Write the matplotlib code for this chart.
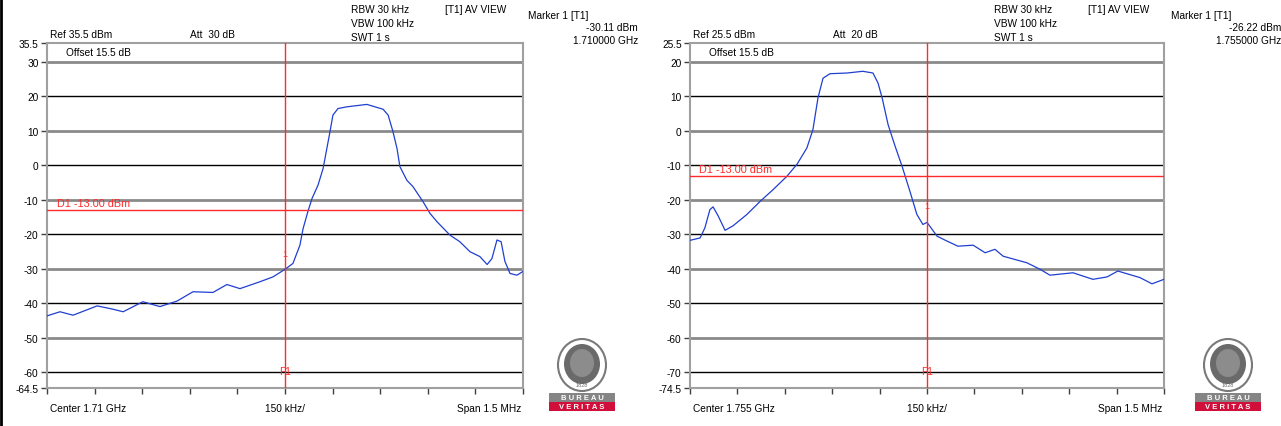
import matplotlib
matplotlib.use("Agg")
import matplotlib.pyplot as plt
from matplotlib.patches import Ellipse, Rectangle

plt.rcParams['font.family'] = ['Liberation Sans', 'DejaVu Sans']

# ---------------- data (frequency offset from centre in kHz, level in dBm) -------------
left_freq_khz = [-750, -709, -668, -592, -545, -510, -448, -394, -340, -290, -227, -183,
                 -142, -79, -38, 0, 25, 47, 57, 72, 85, 104, 120, 142, 151, 167, 195, 258,
                 309, 325, 340, 353, 362, 384, 403, 435, 457, 479, 520, 551, 583, 614, 637,
                 652, 668, 681, 693, 709, 731, 750]
left_level_dbm = [-43.6, -42.4, -43.4, -40.7, -41.6, -42.4, -39.5, -40.9, -39.3, -36.6,
                  -36.8, -34.5, -35.7, -33.7, -32.3, -30.1, -28.4, -23.1, -18.3, -13.4,
                  -9.6, -5.7, -0.9, 9.9, 14.6, 16.5, 17.0, 17.7, 16.3, 14.6, 9.9, 4.9, -0.3,
                  -4.3, -6.1, -10.5, -13.9, -16.3, -20.2, -22.1, -25.0, -26.4, -28.7, -27.0,
                  -21.6, -22.1, -27.8, -31.3, -31.8, -30.7]

right_freq_khz = [-750, -718, -703, -687, -677, -661, -639, -614, -570, -528, -487, -443,
                  -411, -380, -361, -345, -329, -307, -253, -203, -171, -155, -142, -123,
                  -101, -79, -54, -32, -13, 0, 32, 63, 98, 146, 184, 215, 241, 316, 358, 389,
                  462, 525, 570, 604, 674, 712, 750]
right_level_dbm = [-31.7, -31.0, -28.1, -22.8, -22.0, -24.6, -28.8, -27.5, -24.2, -20.4,
                   -17.0, -13.1, -9.6, -4.9, 0.4, 9.6, 15.3, 16.6, 16.8, 17.3, 16.8, 13.9,
                   9.6, 1.8, -4.4, -10.2, -17.5, -24.2, -27.1, -26.5, -30.5, -31.9, -33.4,
                   -33.1, -35.3, -34.3, -36.3, -38.2, -40.1, -41.8, -41.1, -43.0, -42.3,
                   -40.6, -42.5, -44.3, -43.0]

panels = [
    dict(ref=35.5, bottom=-64.5, ticks=[35.5, 30, 20, 10, 0, -10, -20, -30, -40, -50, -60, -64.5],
         grid=[30, 20, 10, 0, -10, -20, -30, -40, -50, -60],
         att="Att  30 dB", ref_txt="Ref 35.5 dBm", mk_val="-30.11 dBm", mk_freq="1.710000 GHz",
         center="Center 1.71 GHz", f=left_freq_khz, v=left_level_dbm, mk_level=-30.11),
    dict(ref=25.5, bottom=-74.5, ticks=[25.5, 20, 10, 0, -10, -20, -30, -40, -50, -60, -70, -74.5],
         grid=[20, 10, 0, -10, -20, -30, -40, -50, -60, -70],
         att="Att  20 dB", ref_txt="Ref 25.5 dBm", mk_val="-26.22 dBm", mk_freq="1.755000 GHz",
         center="Center 1.755 GHz", f=right_freq_khz, v=right_level_dbm, mk_level=-26.22),
]
limit_dbm = -13.0
span_khz = 1500
div_khz = 150

W, H = 1281, 427
fig = plt.figure(figsize=(W / 100, H / 100), dpi=100)
fig.patch.set_facecolor('white')

# overlay axes in pixel coordinates for header texts and logos
ov = fig.add_axes([0, 0, 1, 1], zorder=-1)
ov.set_xlim(0, W)
ov.set_ylim(H, 0)
ov.axis('off')

FS = 7.3
RED = '#ff2a2a'
BLUE = '#1f3fd0'
GRAYLINE = '#8a8a8a'

ax_left_px = [47, 690]
ax_w_px = [476, 474]
top_px, bot_px = 44, 389

for i, p in enumerate(panels):
    x0 = ax_left_px[i]
    w = ax_w_px[i]
    ax = fig.add_axes([x0 / W, (H - bot_px) / H, w / W, (bot_px - top_px) / H])
    ax.set_xlim(-span_khz / 2, span_khz / 2)
    ax.set_ylim(p['bottom'], p['ref'])
    for k, g in enumerate(p['grid']):
        if k % 2 == 0:
            ax.axhline(g, color=GRAYLINE, lw=2.0, zorder=1)
        else:
            ax.axhline(g, color='black', lw=1.0, zorder=1)
    ax.plot(p['f'], p['v'], color=BLUE, lw=0.9, zorder=3)
    ax.axvline(0, color=RED, lw=1.0, zorder=4)
    ax.axhline(limit_dbm, color=RED, lw=1.0, zorder=4)
    ax.text(-span_khz / 2 + 30, limit_dbm + 0.6, "D1 -13.00 dBm", color=RED,
            fontsize=FS + 0.5, va='bottom', ha='left', zorder=5)
    ax.text(0, p['grid'][-1] + 0.3, "F1", color=RED, fontsize=FS, ha='center',
            va='center', zorder=5)
    ax.text(0, p['mk_level'] + 4.5, "1", color=RED, fontsize=6.5, ha='center',
            va='center', zorder=5)
    ax.text(-span_khz / 2 + 60, p['ref'] - 2.7, "Offset 15.5 dB", fontsize=FS,
            ha='left', va='center')
    ax.set_yticks(p['ticks'])
    ax.set_yticklabels([("%g" % t) for t in p['ticks']], fontsize=FS)
    xt = [-span_khz / 2 + div_khz * k for k in range(11)]
    ax.set_xticks(xt)
    ax.set_xticklabels([])
    ax.tick_params(axis='both', direction='out', length=4, width=1, color='#404040', pad=2)
    for s in ax.spines.values():
        s.set_color('#a0a0a0')
        s.set_linewidth(1.5)

    dx = x0 - 47
    # header text
    ov.text(50 + dx, 38, p['ref_txt'], fontsize=FS, va='baseline')
    ov.text(190 + dx, 38, p['att'], fontsize=FS, va='baseline')
    ov.text(351 + dx, 13, "RBW 30 kHz", fontsize=FS, va='baseline')
    ov.text(351 + dx, 27, "VBW 100 kHz", fontsize=FS, va='baseline')
    ov.text(351 + dx, 41, "SWT 1 s", fontsize=FS, va='baseline')
    ov.text(445 + dx, 13, "[T1] AV VIEW", fontsize=FS, va='baseline')
    ov.text(528 + dx, 19, "Marker 1 [T1]", fontsize=FS, va='baseline')
    ov.text(638 + dx, 31, p['mk_val'], fontsize=FS, va='baseline', ha='right')
    ov.text(638 + dx, 44, p['mk_freq'], fontsize=FS, va='baseline', ha='right')
    # bottom text
    ov.text(50 + dx, 412, p['center'], fontsize=FS, va='baseline')
    ov.text(x0 + w / 2, 412, "150 kHz/", fontsize=FS, va='baseline', ha='center')
    ov.text(x0 + w - 2, 412, "Span 1.5 MHz", fontsize=FS, va='baseline', ha='right')

    # logo
    cx = 582 + dx + (3 if i else 0)
    ov.add_patch(Ellipse((cx, 366), 48, 52, facecolor='white', edgecolor='#7a7a7a', lw=1.5))
    ov.add_patch(Ellipse((cx, 365), 36, 40, facecolor='#6a6a6a', edgecolor='none'))
    ov.add_patch(Ellipse((cx, 364), 24, 28, facecolor='#8c8c8c', edgecolor='none'))
    ov.text(cx, 386, "1828", fontsize=4, ha='center', va='center', color='#6a6a6a')
    ov.add_patch(Rectangle((cx - 33, 394), 66, 8.5, facecolor='#858585', edgecolor='none'))
    ov.add_patch(Rectangle((cx - 33, 402.5), 66, 9, facecolor='#d0103a', edgecolor='none'))
    ov.text(cx, 398.3, "B U R E A U", fontsize=5.5, ha='center', va='center',
            color='white', fontweight='bold')
    ov.text(cx, 407.2, "V E R I T A S", fontsize=5.5, ha='center', va='center',
            color='white', fontweight='bold')

# left border line of the original image
ov.plot([1.0, 1.0], [0, H], color='black', lw=2)

fig.savefig("out.png", dpi=100)
